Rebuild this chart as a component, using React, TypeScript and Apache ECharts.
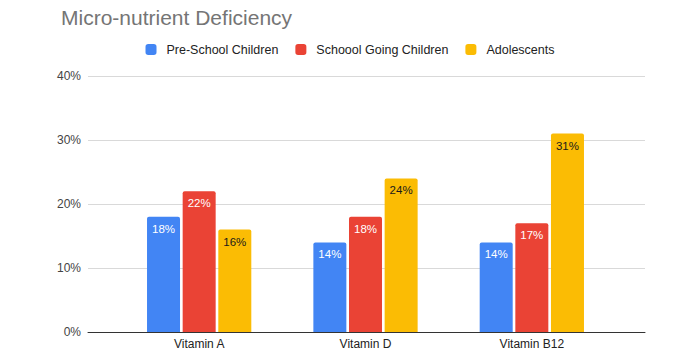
import React, { useEffect, useRef } from "react";
import * as echarts from "echarts";

const categories = ["Vitamin A", "Vitamin D", "Vitamin B12"];
const seriesNames = ["Pre-School Children", "Schoool Going Children", "Adolescents"];
const preSchool = [18, 14, 14];
const schoolGoing = [22, 18, 17];
const adolescents = [16, 24, 31];
const colors = ["#4285F4", "#EA4335", "#FBBC04"];
const labelColors = ["#ffffff", "#ffffff", "#1a1a1a"];

export default function App() {
  const ref = useRef<HTMLDivElement>(null);
  useEffect(() => {
    const chart = echarts.init(ref.current!, null, { renderer: "svg" });
    const font = "'Liberation Sans', Arial, sans-serif";
    const data = [preSchool, schoolGoing, adolescents];
    chart.setOption({
      animation: false,
      backgroundColor: "#ffffff",
      title: {
        text: "Micro-nutrient Deficiency",
        left: 56,
        top: 2,
        textStyle: { fontFamily: font, fontSize: 21, fontWeight: "normal", color: "#757575" },
      },
      legend: {
        top: 38,
        left: "center",
        itemWidth: 11,
        itemHeight: 11,
        itemGap: 17,
        icon: "roundRect",
        textStyle: { fontFamily: font, fontSize: 12.5, color: "#222222", padding: [0, 0, 0, 5] },
        data: seriesNames,
      },
      grid: [
        { left: 88, right: 55, top: 76, bottom: 24 },
        { left: 116, right: 85, top: 76, bottom: 24 },
      ],
      xAxis: [
        {
          type: "category",
          gridIndex: 0,
          data: categories,
          axisLine: { show: true, lineStyle: { color: "#333333", width: 1 } },
          axisTick: { show: false },
          axisLabel: { show: false },
        },
        {
          type: "category",
          gridIndex: 1,
          data: categories,
          axisLine: { show: false },
          axisTick: { show: false },
          axisLabel: { fontFamily: font, fontSize: 12, color: "#222222", margin: 6 },
        },
      ],
      yAxis: [
        {
          type: "value",
          gridIndex: 0,
          min: 0,
          max: 40,
          interval: 10,
          axisLabel: {
            fontFamily: font,
            fontSize: 12,
            color: "#444444",
            margin: 7,
            formatter: (v: number) => v + "%",
          },
          axisLine: { show: false },
          axisTick: { show: false },
          splitLine: { lineStyle: { color: "#d9d9d9", width: 1 } },
        },
        {
          type: "value",
          gridIndex: 1,
          min: 0,
          max: 40,
          interval: 10,
          show: false,
          splitLine: { show: false },
        },
      ],
      series: seriesNames.map((name, i) => ({
        name,
        type: "bar",
        xAxisIndex: 1,
        yAxisIndex: 1,
        data: data[i],
        barWidth: 33,
        barGap: "8%",
        itemStyle: { color: colors[i], borderRadius: [2, 2, 0, 0] },
        label: {
          show: true,
          position: "insideTop",
          distance: 6,
          formatter: "{c}%",
          fontFamily: font,
          fontSize: 11.5,
          color: labelColors[i],
        },
      })),
    });
    return () => chart.dispose();
  }, []);
  return <div ref={ref} style={{ width: 700, height: 356, position: "absolute", left: 0, top: 0 }} />;
}
